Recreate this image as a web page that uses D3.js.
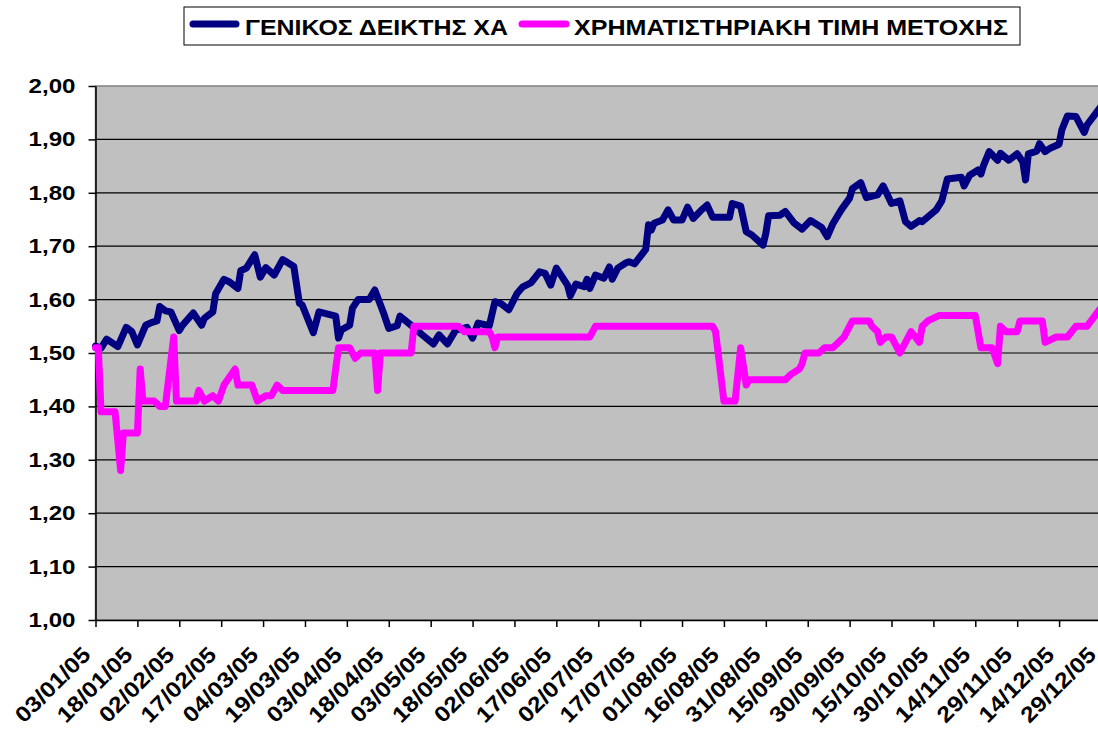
<!DOCTYPE html>
<html lang="el">
<head>
<meta charset="utf-8">
<style>
  body { margin: 0; background: #fff; }
  svg text { font-family: "Liberation Sans", Arial, sans-serif; font-weight: bold; fill: #000; }
</style>
</head>
<body>
<div id="chart"></div>
<script src="https://d3js.org/d3.v7.min.js"></script>
<script>
// x axis labels (every 15 days)
var tickLabels = ["03/01/05","18/01/05","02/02/05","17/02/05","04/03/05","19/03/05","03/04/05",
  "18/04/05","03/05/05","18/05/05","02/06/05","17/06/05","02/07/05","17/07/05","01/08/05",
  "16/08/05","31/08/05","15/09/05","30/09/05","15/10/05","30/10/05","14/11/05","29/11/05",
  "14/12/05","29/12/05"];
var yTicks = [1.0, 1.1, 1.2, 1.3, 1.4, 1.5, 1.6, 1.7, 1.8, 1.9, 2.0];

var seriesNames = ["ΓΕΝΙΚΟΣ ΔΕΙΚΤΗΣ ΧΑ", "ΧΡΗΜΑΤΙΣΤΗΡΙΑΚΗ ΤΙΜΗ ΜΕΤΟΧΗΣ"];

// general index (scaled)
var indexDates = ["03/01/05","05/01/05","07/01/05","11/01/05","14/01/05","16/01/05","18/01/05","21/01/05",
  "23/01/05","25/01/05","26/01/05","28/01/05","30/01/05","02/02/05","03/02/05","07/02/05","10/02/05",
  "11/02/05","14/02/05","15/02/05","18/02/05","20/02/05","23/02/05","24/02/05","26/02/05","01/03/05",
  "03/03/05","05/03/05","08/03/05","11/03/05","15/03/05","17/03/05","18/03/05","22/03/05","24/03/05",
  "30/03/05","31/03/05","01/04/05","04/04/05","05/04/05","07/04/05","11/04/05","13/04/05","16/04/05",
  "18/04/05","21/04/05","22/04/05","26/04/05","30/04/05","04/05/05","06/05/05","09/05/05","12/05/05",
  "16/05/05","18/05/05","20/05/05","24/05/05","26/05/05","28/05/05","31/05/05","03/06/05","05/06/05",
  "08/06/05","11/06/05","13/06/05","15/06/05","17/06/05","19/06/05","21/06/05","22/06/05","24/06/05",
  "27/06/05","28/06/05","29/06/05","01/07/05","04/07/05","06/07/05","07/07/05","09/07/05","12/07/05",
  "13/07/05","15/07/05","19/07/05","20/07/05","21/07/05","22/07/05","25/07/05","27/07/05","29/07/05",
  "01/08/05","03/08/05","05/08/05","08/08/05","10/08/05","12/08/05","18/08/05","19/08/05","22/08/05",
  "24/08/05","26/08/05","30/08/05","31/08/05","01/09/05","05/09/05","07/09/05","10/09/05","13/09/05",
  "16/09/05","20/09/05","22/09/05","24/09/05","27/09/05","30/09/05","01/10/05","04/10/05","06/10/05",
  "10/10/05","12/10/05","15/10/05","18/10/05","20/10/05","22/10/05","25/10/05","26/10/05","31/10/05",
  "02/11/05","04/11/05","09/11/05","10/11/05","12/11/05","15/11/05","16/11/05","17/11/05","19/11/05",
  "22/11/05","23/11/05","26/11/05","29/11/05","01/12/05","02/12/05","03/12/05","06/12/05","07/12/05",
  "09/12/05","11/12/05","14/12/05","15/12/05","17/12/05","20/12/05","23/12/05","24/12/05","29/12/05"];
var indexValues = [1.513,1.509,1.526,1.512,1.548,1.540,1.515,1.552,
  1.557,1.560,1.587,1.579,1.577,1.542,1.551,1.575,1.552,
  1.565,1.577,1.611,1.638,1.633,1.621,1.654,1.659,1.684,
  1.642,1.660,1.646,1.675,1.662,1.593,1.590,1.538,1.577,
  1.569,1.528,1.543,1.552,1.584,1.600,1.600,1.618,1.577,
  1.546,1.551,1.569,1.552,1.534,1.517,1.534,1.517,1.543,
  1.548,1.528,1.556,1.551,1.596,1.593,1.581,1.612,1.624,
  1.632,1.652,1.649,1.627,1.659,1.643,1.627,1.607,1.629,
  1.624,1.638,1.621,1.646,1.640,1.661,1.638,1.659,1.669,
  1.671,1.667,1.694,1.740,1.730,1.743,1.749,1.768,1.749,
  1.749,1.773,1.752,1.768,1.777,1.754,1.754,1.780,1.775,
  1.727,1.721,1.702,1.724,1.757,1.758,1.765,1.744,1.732,
  1.748,1.735,1.718,1.742,1.768,1.790,1.808,1.819,1.791,
  1.796,1.813,1.780,1.785,1.746,1.737,1.748,1.746,1.768,
  1.785,1.826,1.829,1.813,1.833,1.843,1.835,1.852,1.877,
  1.861,1.874,1.861,1.873,1.858,1.824,1.873,1.878,1.892,
  1.877,1.884,1.891,1.918,1.944,1.943,1.913,1.927,1.962];

// share price
var shareDates = ["03/01/05","04/01/05","05/01/05","10/01/05","12/01/05","13/01/05","18/01/05","19/01/05",
  "20/01/05","24/01/05","26/01/05","28/01/05","31/01/05","01/02/05","08/02/05","09/02/05","11/02/05",
  "14/02/05","16/02/05","18/02/05","22/02/05","23/02/05","28/02/05","02/03/05","05/03/05","07/03/05",
  "09/03/05","11/03/05","29/03/05","31/03/05","04/04/05","06/04/05","08/04/05","13/04/05","14/04/05",
  "15/04/05","26/04/05","27/04/05","13/05/05","15/05/05","24/05/05","25/05/05","26/05/05","27/05/05",
  "29/06/05","01/07/05","12/08/05","13/08/05","16/08/05","20/08/05","22/08/05","24/08/05","25/08/05",
  "07/09/05","09/09/05","12/09/05","13/09/05","14/09/05","19/09/05","21/09/05","24/09/05","28/09/05",
  "29/09/05","01/10/05","07/10/05","08/10/05","10/10/05","11/10/05","13/10/05","15/10/05","18/10/05",
  "20/10/05","22/10/05","25/10/05","26/10/05","28/10/05","01/11/05","14/11/05","16/11/05","20/11/05",
  "22/11/05","23/11/05","25/11/05","29/11/05","30/11/05","08/12/05","09/12/05","13/12/05","17/12/05",
  "20/12/05","24/12/05","29/12/05"];
var shareValues = [1.51,1.51,1.39,1.39,1.28,1.35,1.35,1.47,
  1.41,1.41,1.40,1.40,1.53,1.41,1.41,1.43,1.41,
  1.42,1.41,1.44,1.47,1.44,1.44,1.41,1.42,1.42,
  1.44,1.43,1.43,1.51,1.51,1.49,1.50,1.50,1.43,
  1.50,1.50,1.55,1.55,1.54,1.54,1.53,1.51,1.53,
  1.53,1.55,1.55,1.54,1.41,1.41,1.51,1.44,1.45,
  1.45,1.46,1.47,1.48,1.50,1.50,1.51,1.51,1.53,
  1.54,1.56,1.56,1.55,1.54,1.52,1.53,1.53,1.50,
  1.52,1.54,1.52,1.55,1.56,1.57,1.57,1.51,1.51,
  1.48,1.55,1.54,1.54,1.56,1.56,1.52,1.53,1.53,
  1.55,1.55,1.585];

var width = 1098, height = 732;
var plotLeft = 95.5, plotTop = 86, plotBottom = 620;
var dayPx = 2.793;

var parse = d3.utcParse("%d/%m/%y");
var start = parse("03/01/05"), end = parse("31/12/05");

var x = d3.scaleUtc()
  .domain([start, end])
  .range([plotLeft, plotLeft + d3.utcDay.count(start, end) * dayPx]);
var y = d3.scaleLinear().domain([1, 2]).range([plotBottom, plotTop]);

var svg = d3.select("#chart").append("svg")
  .attr("width", width)
  .attr("height", height);

var plotRight = x.range()[1];

svg.append("rect")
  .attr("x", plotLeft).attr("y", plotTop)
  .attr("width", plotRight - plotLeft).attr("height", plotBottom - plotTop)
  .attr("fill", "#c0c0c0")
  .attr("stroke", "#808080")
  .attr("stroke-width", 1.5);

svg.append("g").selectAll("line")
  .data(yTicks.filter(function(d) { return d > 1 && d < 2; }))
  .enter().append("line")
  .attr("x1", plotLeft).attr("x2", plotRight)
  .attr("y1", function(d) { return y(d); })
  .attr("y2", function(d) { return y(d); })
  .attr("stroke", "#000")
  .attr("stroke-width", 1.2);

var fmt = function(d) { return d.toFixed(2).replace(".", ","); };

var yAxis = svg.append("g")
  .attr("transform", "translate(" + plotLeft + ",0)")
  .call(d3.axisLeft(y).tickValues(yTicks).tickFormat(fmt).tickSize(7).tickSizeOuter(0).tickPadding(13));
yAxis.selectAll("text")
  .style("font-size", "20.5px")
  .attr("textLength", 47)
  .attr("lengthAdjust", "spacingAndGlyphs");

var tickDates = tickLabels.map(parse);
var xAxis = svg.append("g")
  .attr("transform", "translate(0," + plotBottom + ")")
  .call(d3.axisBottom(x).tickValues(tickDates).tickFormat(d3.utcFormat("%d/%m/%y")).tickSize(7).tickSizeOuter(0));
xAxis.selectAll("text")
  .attr("x", 0).attr("y", 0).attr("dy", 0)
  .attr("text-anchor", "end")
  .attr("transform", "translate(-4,36) rotate(-45)")
  .style("font-size", "22px")
  .attr("textLength", 96)
  .attr("lengthAdjust", "spacingAndGlyphs");

svg.selectAll(".domain, .tick line").attr("stroke", "#000").attr("stroke-width", 1.5);

var line = d3.line()
  .x(function(d) { return x(d.date); })
  .y(function(d) { return y(d.value); });

var indexData = indexDates.map(function(d, i) { return { date: parse(d), value: indexValues[i] }; });
var shareData = shareDates.map(function(d, i) { return { date: parse(d), value: shareValues[i] }; });
var colors = ["#000080", "#ff00ff"];

[indexData, shareData].forEach(function(data, i) {
  svg.append("path")
    .datum(data)
    .attr("fill", "none")
    .attr("stroke", colors[i])
    .attr("stroke-width", 7)
    .attr("stroke-linejoin", "round")
    .attr("stroke-linecap", "round")
    .attr("d", line);
});

// legend
var legend = svg.append("g");
legend.append("rect")
  .attr("x", 184).attr("y", 7).attr("width", 836).attr("height", 38)
  .attr("fill", "#fff").attr("stroke", "#000").attr("stroke-width", 1);

var legendItems = [
  { x: 190, w: 49, tx: 245, tl: 263 },
  { x: 519, w: 50, tx: 574, tl: 434 }
];
legendItems.forEach(function(it, i) {
  legend.append("line")
    .attr("x1", it.x + 3).attr("x2", it.x + it.w - 3)
    .attr("y1", 24).attr("y2", 24)
    .attr("stroke", colors[i]).attr("stroke-width", 7).attr("stroke-linecap", "round");
  legend.append("text")
    .attr("x", it.tx).attr("y", 35)
    .style("font-size", "22px")
    .attr("textLength", it.tl)
    .attr("lengthAdjust", "spacingAndGlyphs")
    .text(seriesNames[i]);
});
</script>
</body>
</html>
